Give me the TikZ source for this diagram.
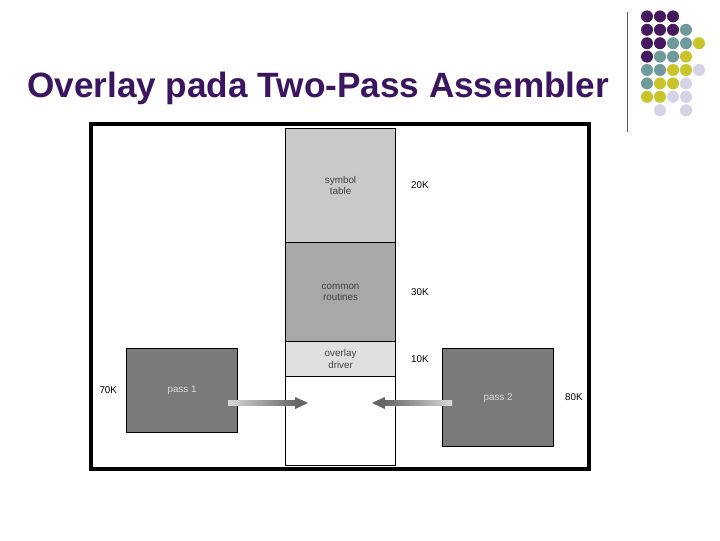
\documentclass[tikz,border=0pt]{standalone}
\usepackage{fontspec}
\setmainfont{Liberation Sans}
\usetikzlibrary{arrows.meta, positioning}
\definecolor{titlepurple}{HTML}{3B1560}
\definecolor{dotP}{HTML}{45195F}
\definecolor{dotT}{HTML}{6F9A9A}
\definecolor{dotY}{HTML}{C8C42A}
\definecolor{dotL}{HTML}{D4D4E6}
\definecolor{dotN}{HTML}{FFFFFF}
\definecolor{passgray}{HTML}{7A7B78}
\begin{document}
\begin{tikzpicture}[x=0.025cm, y=-0.025cm,
    mem/.style={draw, line width=0.8pt, anchor=north west, inner sep=0pt, font=\scriptsize, align=center, text=black!75},
    pass/.style={draw, line width=0.8pt, fill=passgray, anchor=north west, inner sep=0pt, font=\scriptsize, text=white!85!black},
    size/.style={font=\scriptsize},
    dot/.style={circle, inner sep=0pt, minimum size=0.3cm},
]
\useasboundingbox (0,0) rectangle (720,540);

% title
\node[font=\bfseries\fontsize{25}{28}\selectfont, text=titlepurple] (title) at (318,88) {Overlay pada Two-Pass Assembler};
\coordinate (rtop) at (627,12);
\coordinate (rbot) at (627,132);
\draw[gray!70!black, line width=0.6pt] (rtop) -- (rbot);

% dots
\foreach \row/\cols in {1/{P,P,P,N,N}, 2/{P,P,P,T,N}, 3/{P,P,T,T,Y}, 4/{P,T,T,Y,N},
                        5/{T,T,Y,Y,L}, 6/{T,Y,Y,L,N}, 7/{Y,Y,L,L,N}, 8/{N,L,N,L,N}} {
  \foreach \c [count=\i] in \cols {
    \node[dot, fill=dot\c] at ({634+13*\i},{3+13.4*\row}) {};
  }
}

% frame
\draw[line width=3pt] (91,124) rectangle (589,469);

% memory column
\node[mem, fill=black!21, minimum width=2.75cm, minimum height=2.85cm] (symtab) at (285,128) {symbol\\table};
\node[mem, fill=black!34, minimum width=2.75cm, minimum height=2.475cm] (common) at (285,242) {common\\routines};
\node[mem, fill=black!12, minimum width=2.75cm, minimum height=0.875cm] (driver) at (285,341) {overlay\\driver};
\node[mem, fill=white, minimum width=2.75cm, minimum height=2.225cm] (free) at (285,376) {};

\node[size, right=0.25cm of symtab] (s20) {20K};
\node[size, right=0.25cm of common] (s30) {30K};
\node[size, right=0.25cm of driver] (s10) {10K};

% passes
\node[pass, minimum width=2.775cm, minimum height=2.1cm] (pass1) at (126,348) {pass 1};
\node[pass, minimum width=2.775cm, minimum height=2.45cm] (pass2) at (442,348) {pass 2};
\node[size, left=0.1cm of pass1] (s70) {70K};
\node[size, right=0.15cm of pass2] (s80) {80K};

% arrows
\coordinate (a1s) at (228,403);
\coordinate (a1e) at (308,403);
\coordinate (a2s) at (452,403);
\coordinate (a2e) at (372,403);
\shade[left color=gray!30, right color=gray!80!black] ([yshift=0.06cm]a1s) rectangle ([yshift=-0.06cm,xshift=-0.3cm]a1e);
\fill[gray!80!black] (a1e) -- ([xshift=-0.32cm,yshift=0.15cm]a1e) -- ([xshift=-0.32cm,yshift=-0.15cm]a1e) -- cycle;
\shade[right color=gray!30, left color=gray!80!black] ([yshift=0.06cm]a2s) rectangle ([yshift=-0.06cm,xshift=0.3cm]a2e);
\fill[gray!80!black] (a2e) -- ([xshift=0.32cm,yshift=0.15cm]a2e) -- ([xshift=0.32cm,yshift=-0.15cm]a2e) -- cycle;
\end{tikzpicture}
\end{document}
